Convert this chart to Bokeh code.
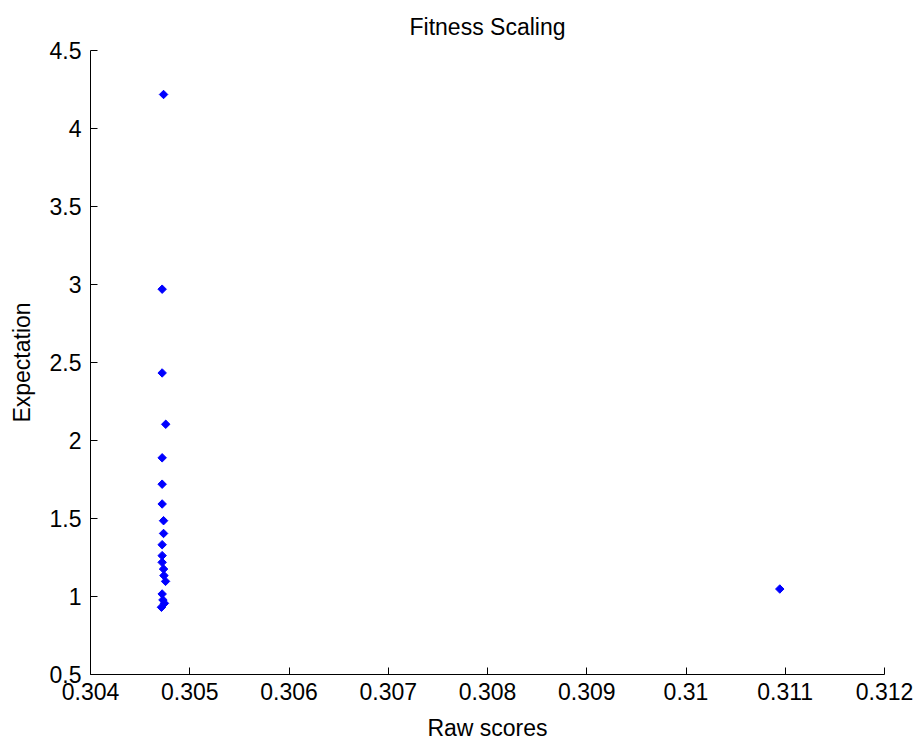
import math
from bokeh.plotting import figure
from bokeh.models import Range1d, FixedTicker
from bokeh.embed import file_html
from bokeh.resources import INLINE

# Data
raw_scores = [0.304736, 0.304722, 0.304722, 0.304758, 0.304722, 0.304722,
              0.304722, 0.304736, 0.304736, 0.304722, 0.304722, 0.304722,
              0.304736, 0.304740, 0.304756, 0.304722, 0.304730, 0.304745,
              0.304715, 0.310945]
expectation = [4.218, 2.970, 2.433, 2.104, 1.889, 1.720,
               1.593, 1.486, 1.404, 1.332, 1.262, 1.219,
               1.176, 1.134, 1.097, 1.016, 0.978, 0.956,
               0.931, 1.048]

x_ticks = [0.304, 0.305, 0.306, 0.307, 0.308, 0.309, 0.310, 0.311, 0.312]
x_tick_labels = ["0.304", "0.305", "0.306", "0.307", "0.308", "0.309", "0.31", "0.311", "0.312"]
y_ticks = [0.5, 1.0, 1.5, 2.0, 2.5, 3.0, 3.5, 4.0, 4.5]
y_tick_labels = ["0.5", "1", "1.5", "2", "2.5", "3", "3.5", "4", "4.5"]

title_text = "Fitness Scaling"
x_label = "Raw scores"
y_label = "Expectation"

FONT = "Liberation Sans"
FS = "23px"

p = figure(width=917, height=743, output_backend="svg", toolbar_location=None,
           x_range=Range1d(0.304, 0.312), y_range=Range1d(0.5, 4.5),
           title=title_text,
           min_border_left=90, min_border_right=33, min_border_top=49,
           min_border_bottom=69)

p.background_fill_color = "white"
p.border_fill_color = "white"
p.outline_line_color = None
p.xgrid.grid_line_color = None
p.ygrid.grid_line_color = None

p.title.align = "center"
p.title.text_font = FONT
p.title.text_font_size = FS
p.title.text_font_style = "normal"
p.title.text_color = "black"
p.title.standoff = 22

for ax, ticks, labels, lab in ((p.xaxis[0], x_ticks, x_tick_labels, x_label),
                               (p.yaxis[0], y_ticks, y_tick_labels, y_label)):
    ax.ticker = FixedTicker(ticks=ticks)
    ax.major_label_overrides = {t: l for t, l in zip(ticks, labels)}
    ax.major_tick_in = 7
    ax.major_tick_out = 0
    ax.minor_tick_line_color = None
    ax.axis_line_color = "black"
    ax.axis_line_width = 1
    ax.major_tick_line_color = "black"
    ax.major_label_text_font = FONT
    ax.major_label_text_font_size = FS
    ax.major_label_text_color = "black"
    ax.axis_label = lab
    ax.axis_label_text_font = FONT
    ax.axis_label_text_font_size = FS
    ax.axis_label_text_font_style = "normal"
    ax.axis_label_text_color = "black"

p.xaxis.major_label_standoff = 8
p.xaxis.axis_label_standoff = 12
p.yaxis.major_label_standoff = 9
p.yaxis.axis_label_standoff = 12

p.scatter(raw_scores, expectation, marker="square", size=6, angle=math.pi / 4,
          fill_color="#0000ff", line_color="#0000ff")

open("out.html", "w").write(file_html(p, INLINE))
